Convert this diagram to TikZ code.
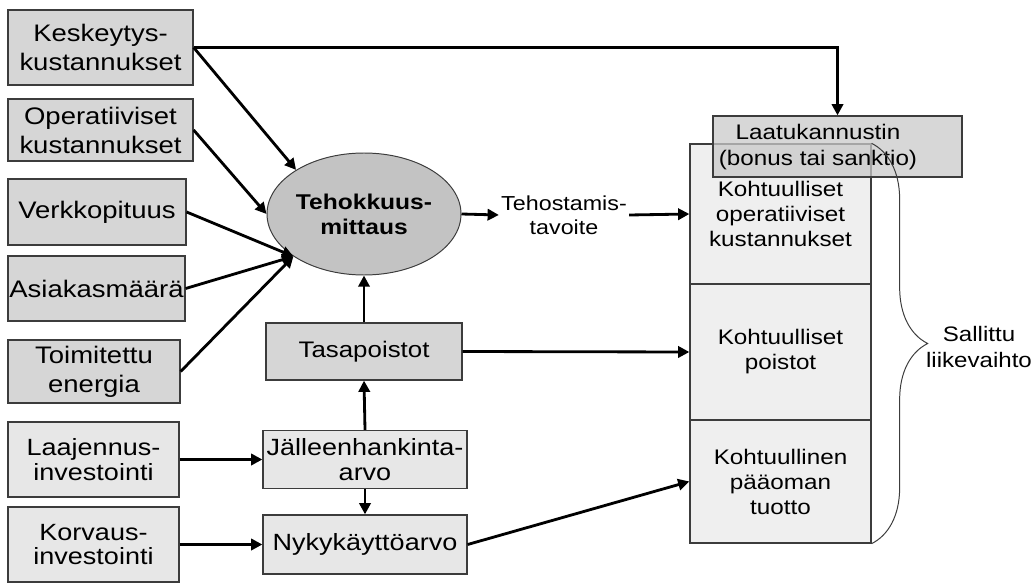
\documentclass[tikz,border=0pt]{standalone}
\usepackage{fontspec}
\setmainfont{Liberation Sans}[FakeStretch=1.15]
\usepackage{tikz}
\usetikzlibrary{arrows.meta,shapes.geometric,decorations.pathreplacing}

\definecolor{edgegray}{HTML}{3C3C3C}
\definecolor{boxfill}{HTML}{D6D6D6}
\definecolor{invfill}{HTML}{E7E7E7}
\definecolor{colfill}{HTML}{EFEFEF}
\definecolor{ellfill}{HTML}{C3C3C3}
\definecolor{laatufill}{HTML}{C9C9C9}

\begin{document}
\begin{tikzpicture}[x=0.025cm, y=-0.025cm,
    boxsize/.style 2 args={minimum width=#1*0.025cm, minimum height=#2*0.025cm},
    inbox/.style={draw=edgegray, line width=0.9pt, fill=boxfill, align=center, inner sep=0pt,
      font=\fontsize{17}{20.6}\selectfont},
    invbox/.style={inbox, fill=invfill, font=\fontsize{16.7}{17.5}\selectfont},
    colbox/.style={inbox, fill=colfill, font=\fontsize{15}{17.8}\selectfont},
    plain/.style={align=center, inner sep=1.5pt},
    arr/.style={line width=2pt, -{Triangle[length=8pt,width=8pt]}}]

        % Bounding box of the whole figure
        \useasboundingbox (0,0) rectangle (1036,583);

        % Input boxes on the left
        \node[inbox, boxsize={185}{75}] (kesk) at (100.5,47.5) {Keskeytys-\\kustannukset};
        \node[inbox, boxsize={185}{62}] (oper) at (100.5,130) {Operatiiviset\\kustannukset};
        \node[inbox, boxsize={178}{66}] (verkko) at (97,212) {Verkkopituus};
        \node[inbox, boxsize={177}{65}] (asiakas) at (96.5,288.5) {Asiakasmäärä};
        \node[inbox, boxsize={172}{63}] (energia) at (94,371.5) {Toimitettu\\energia};

        % Investments and asset values
        \node[invbox, boxsize={171}{75}] (laaj) at (93.5,459.5) {Laajennus-\\investointi};
        \node[invbox, boxsize={171}{75}] (korv) at (93.5,544.5) {Korvaus-\\investointi};
        \node[invbox, boxsize={204}{58}] (jalleen) at (365,459.5) {Jälleenhankinta-\\arvo};
        \node[invbox, boxsize={204}{59}] (nyky) at (365,544.5) {Nykykäyttöarvo};
        \node[inbox, boxsize={196}{57}, font=\fontsize{16}{18}\selectfont] (tasa) at (364,351.5) {Tasapoistot};

        % Efficiency measurement
        \node[ellipse, draw=edgegray, line width=0.7pt, fill=ellfill, boxsize={194}{122}, inner sep=0pt,
          align=center, font=\fontsize{15.2}{17.8}\selectfont\bfseries] (teho) at (364,214) {Tehokkuus-\\mittaus};
        \node[plain, font=\fontsize{14.4}{17}\selectfont] (tavoite) at (564,215) {Tehostamis-\\tavoite};

        % Allowed revenue column
        \node[colbox, boxsize={181}{140}] (kohtoper) at (780.5,214) {Kohtuulliset\\operatiiviset\\kustannukset};
        \node[colbox, boxsize={181}{136}] (kohtpoist) at (780.5,352) {Kohtuulliset\\poistot};
        \node[colbox, boxsize={181}{123}] (kohttuotto) at (780.5,481.5) {Kohtuullinen\\pääoman\\tuotto};

        % Quality incentive on top of the column
        \node[draw=edgegray, line width=0.9pt, fill=laatufill, fill opacity=0.75, boxsize={249}{61}] (laatu) at (837.5,146.5) {};
        \node[plain, font=\fontsize{15}{18.3}\selectfont] (laatuteksti) at (818,147) {Laatukannustin\\(bonus tai sanktio)};

        % Brace and label
        \draw[edgegray, line width=0.7pt, decorate, decoration={brace, amplitude=1.4cm}]
          (kohtoper.north east) -- (kohttuotto.south east);
        \node[plain, font=\fontsize{14.9}{17.8}\selectfont] (sallittu) at (979,347) {Sallittu\\liikevaihto};

        % Arrows into the measurement
        \draw[arr] (kesk.east) -| (laatu.north);
        \draw[arr] (kesk.east) -- (teho.147);
        \draw[arr] (oper.east) -- (teho.west);
        \draw[arr] (verkko.east) -- (teho.211);
        \draw[arr] (asiakas.east) -- (teho.211);
        \draw[arr] (energia.east) -- (teho.211);

        % Arrows to the column
        \draw[arr] (teho.east) -- (tavoite.west);
        \draw[arr] (tavoite.east) -- (kohtoper.west);
        \draw[arr] (tasa.east) -- (kohtpoist.west);
        \draw[arr] (nyky.east) -- (kohttuotto.west);

        % Arrows between the value boxes
        \draw[arr] (tasa.north) -- (teho.south);
        \draw[arr] (jalleen.north) -- (tasa.south);
        \draw[arr] (jalleen.south) -- (nyky.north);
        \draw[arr] (laaj.east) -- (jalleen.west);
        \draw[arr] (korv.east) -- (nyky.west);

      \end{tikzpicture}
\end{document}
